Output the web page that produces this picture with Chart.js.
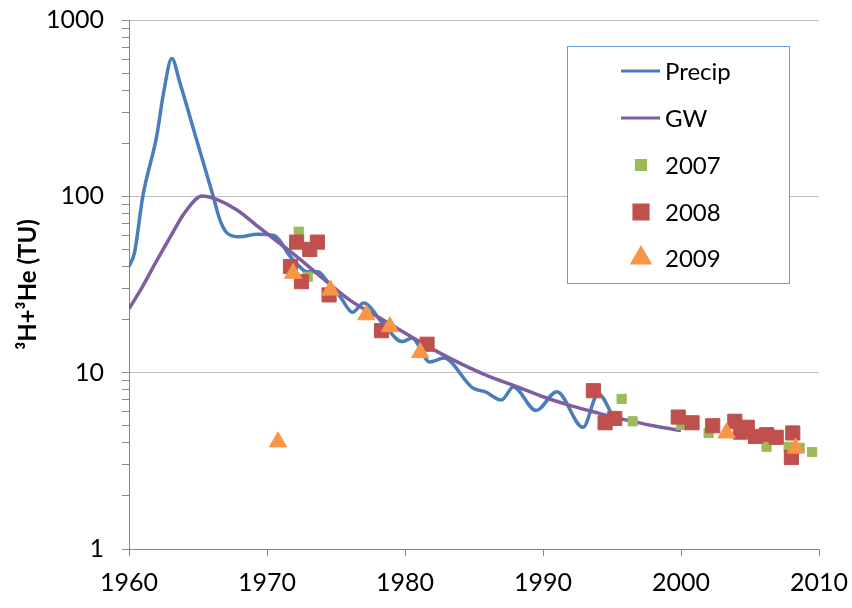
<!DOCTYPE html>
<html>
<head>
<meta charset="utf-8">
<script src="https://cdn.jsdelivr.net/npm/chart.js@4.4.0/dist/chart.umd.min.js"></script>
<style>
  html, body { margin: 0; padding: 0; background: #fff; }
</style>
</head>
<body>
<canvas id="myChart" width="852" height="608"></canvas>
<script>
// tritium + helium-3 in precipitation and groundwater
var precipYears = [1960, 1960.4, 1961, 1962, 1962.5, 1963.1, 1963.7, 1964.9, 1966.1, 1966.6, 1967.1, 1968, 1969.3, 1970.5, 1970.9, 1971.55, 1972.15, 1972.9, 1973.7, 1974.3, 1975.3, 1976.2, 1977, 1978.4, 1979.8, 1980.5, 1981.8, 1982.8, 1984.9, 1985.8, 1987, 1987.85, 1989.5, 1991, 1992.9, 1994, 1995.1];
var precipValues = [40, 48, 100, 218, 384, 605, 437, 209, 100, 73, 62, 59, 61, 60, 56.5, 47, 41.6, 37.3, 37.3, 33.5, 27, 22, 24.8, 19, 15, 15.7, 11.5, 12.1, 8.2, 7.8, 7.0, 8.3, 6.1, 7.8, 4.9, 7.6, 5.6];

var gwYears = [1960, 1961, 1962, 1963, 1964, 1965.3, 1966.3, 1967.8, 1969.5, 1972, 1974, 1976, 1978, 1980, 1982, 1984, 1986, 1988, 1990, 1992, 1994, 1996, 1998, 2000];
var gwValues = [23, 31, 43, 59, 80, 100.5, 96.5, 84, 66, 46.5, 34.5, 25.8, 20.8, 16.8, 13.6, 11.3, 9.6, 8.4, 7.3, 6.5, 5.9, 5.4, 5.0, 4.7];

var years2007 = [1972.3, 1972.95, 1995.7, 1996.5, 2000.0, 2002.0, 2006.2, 2007.8, 2008.6, 2009.5];
var values2007 = [63, 35, 7.1, 5.3, 5.05, 4.55, 3.8, 3.8, 3.75, 3.55];

var years2008 = [1971.7, 1972.15, 1972.5, 1973.1, 1973.65, 1974.5, 1978.3, 1981.6, 1993.65, 1994.5, 1995.2, 1999.8, 2000.8, 2002.3, 2003.9, 2004.3, 2004.8, 2005.4, 2006.2, 2006.9, 2008.0, 2008.1];
var values2008 = [40, 55, 32.8, 50, 55, 27.6, 17.3, 14.5, 7.9, 5.2, 5.5, 5.6, 5.2, 5.0, 5.3, 4.6, 4.9, 4.35, 4.45, 4.3, 3.3, 4.55];

var years2009 = [1970.8, 1971.9, 1974.6, 1977.2, 1978.9, 1981.1, 2003.3, 2008.3];
var values2009 = [4.05, 36.6, 29.4, 21.3, 18.2, 13.0, 4.55, 3.73];

var yTickValues = [1, 2, 3, 4, 5, 6, 7, 8, 9, 10, 20, 30, 40, 50, 60, 70, 80, 90, 100, 200, 300, 400, 500, 600, 700, 800, 900, 1000];
var yLabels = [1, 10, 100, 1000];

function pairs(xs, ys) {
  return xs.map(function (x, i) { return { x: x, y: ys[i] }; });
}

// keep the plot box fixed: no extra room for labels hanging over the ends
function noOverhang(scale) {
  scale.paddingTop = 0;
  scale.paddingBottom = 0;
  scale.paddingLeft = 0;
  scale.paddingRight = 0;
}

Chart.defaults.font.family = "Lato, 'Liberation Sans', sans-serif";
Chart.defaults.color = "#000";

// legend box drawn inside the plot, like the spreadsheet one
var legendBox = {
  id: "legendBox",
  afterDraw: function (chart) {
    var ctx = chart.ctx;
    var left = 567, top = 46, w = 222, h = 237;
    ctx.save();
    ctx.fillStyle = "#fff";
    ctx.fillRect(left, top, w, h);
    ctx.strokeStyle = "#6f9bd4";
    ctx.lineWidth = 1;
    ctx.strokeRect(left + 0.5, top + 0.5, w, h);

    var rowY = [71, 118, 165, 212, 258];
    ctx.font = "24px Lato, 'Liberation Sans', sans-serif";
    ctx.textBaseline = "middle";
    chart.data.datasets.forEach(function (ds, i) {
      var y = rowY[i];
      if (ds.showLine) {
        ctx.strokeStyle = ds.borderColor;
        ctx.lineWidth = 3;
        ctx.beginPath();
        ctx.moveTo(621, y);
        ctx.lineTo(660, y);
        ctx.stroke();
      } else {
        ctx.fillStyle = ds.backgroundColor;
        ctx.strokeStyle = ds.borderColor;
        Chart.helpers.drawPoint(ctx, {
          pointStyle: ds.pointStyle,
          radius: ds.pointRadius,
          rotation: 0,
          borderWidth: 1
        }, 641, y);
      }
      ctx.fillStyle = "#000";
      ctx.fillText(ds.label, 665, y + 1);
    });
    ctx.restore();
  }
};

new Chart("myChart", {
  type: "scatter",
  data: {
    datasets: [{
      label: "Precip",
      data: pairs(precipYears, precipValues),
      showLine: true,
      borderColor: "#4a7ebb",
      borderWidth: 3.5,
      pointRadius: 0,
      cubicInterpolationMode: "monotone",
      order: 5
    }, {
      label: "GW",
      data: pairs(gwYears, gwValues),
      showLine: true,
      borderColor: "#7d5fa0",
      borderWidth: 3.5,
      pointRadius: 0,
      cubicInterpolationMode: "monotone",
      order: 4
    }, {
      label: "2007",
      data: pairs(years2007, values2007),
      pointStyle: "rect",
      pointRadius: 6.5,
      backgroundColor: "#9bbb59",
      borderColor: "#9bbb59",
      borderWidth: 1,
      order: 3
    }, {
      label: "2008",
      data: pairs(years2008, values2008),
      pointStyle: "rect",
      pointRadius: 10,
      backgroundColor: "#c0504d",
      borderColor: "#c0504d",
      borderWidth: 1,
      order: 2
    }, {
      label: "2009",
      data: pairs(years2009, values2009),
      pointStyle: "triangle",
      pointRadius: 10,
      backgroundColor: "#f79646",
      borderColor: "#f79646",
      borderWidth: 1,
      order: 1
    }]
  },
  options: {
    responsive: false,
    animation: false,
    devicePixelRatio: 1,
    layout: { padding: { top: 20, right: 33, left: 0, bottom: 0 } },
    plugins: {
      legend: { display: false },
      tooltip: { enabled: false }
    },
    scales: {
      x: {
        type: "linear",
        min: 1960,
        max: 2010,
        afterFit: function (scale) { scale.height = 59; noOverhang(scale); },
        ticks: {
          stepSize: 10,
          padding: 12,
          font: { size: 25 },
          callback: function (v) { return String(v); }
        },
        grid: {
          drawOnChartArea: false,
          tickLength: 7,
          tickColor: "#868686"
        },
        border: { color: "#868686" }
      },
      y: {
        type: "logarithmic",
        min: 1,
        max: 1000,
        afterFit: function (scale) { scale.width = 129; noOverhang(scale); },
        afterBuildTicks: function (scale) {
          scale.ticks = yTickValues.map(function (v) {
            return { value: v, major: yLabels.indexOf(v) >= 0 };
          });
        },
        ticks: {
          autoSkip: false,
          padding: 18,
          font: { size: 25 },
          callback: function (v) { return yLabels.indexOf(v) >= 0 ? String(v) : ""; }
        },
        grid: {
          color: function (c) {
            return c.tick && yLabels.indexOf(c.tick.value) >= 0 ? "#bfbfbf" : "rgba(0,0,0,0)";
          },
          tickColor: "#868686",
          tickLength: 7
        },
        border: { color: "#868686" },
        title: {
          display: true,
          text: "³H+³He (TU)",
          font: { size: 24, weight: "bold" },
          padding: { top: 14, bottom: 0 }
        }
      }
    }
  },
  plugins: [legendBox]
});
</script>
</body>
</html>
